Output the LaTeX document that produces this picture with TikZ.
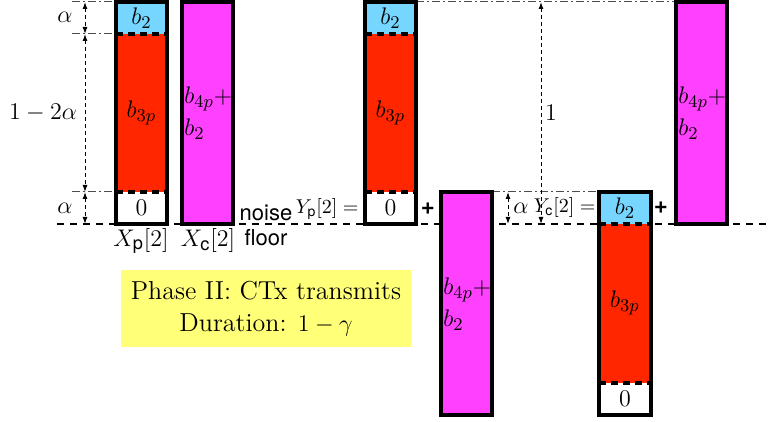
\documentclass[tikz,border=0pt]{standalone}
\usepackage{fontspec}
\setsansfont{TeX Gyre Heros}
\usetikzlibrary{arrows.meta}
\definecolor{cblue}{RGB}{118,214,255}
\definecolor{cred}{RGB}{255,38,0}
\definecolor{cmag}{RGB}{255,64,255}
\definecolor{cyel}{RGB}{255,255,120}
\newcommand{\lsize}{\fontsize{13}{16}\selectfont}
\begin{document}
\begin{tikzpicture}[x=0.5pt,y=-0.5pt,
  box/.style={draw=black, line width=2pt},
  sepline/.style={line width=1.8pt, dash pattern=on 3.5pt off 2.5pt},
  floorline/.style={line width=0.9pt, dash pattern=on 3.5pt off 3pt},
  guide/.style={black!70, line width=0.5pt, dash pattern=on 4pt off 1.5pt on 1pt off 1.5pt},
  dim/.style={line width=0.5pt, dash pattern=on 2pt off 1.5pt, {Latex[length=3.5pt,width=2.5pt]}-{Latex[length=3.5pt,width=2.5pt]}},
  lab/.style={font=\lsize, inner sep=0pt},
  small/.style={font=\fontsize{10}{12}\selectfont, inner sep=0pt},
  plus/.style={font=\sffamily\bfseries\large, inner sep=0pt},
  magtext/.style={font=\lsize, align=left, anchor=west, inner sep=0pt}
]
\useasboundingbox (0,0) rectangle (768,422);

% noise floor
\draw[floorline] (57,224) -- (768,224);

% guides left
\draw[guide] (72,2) -- (116,2);
\draw[guide] (72,34) -- (116,34);
\draw[guide] (72,192) -- (116,192);
% guides right
\draw[guide] (416,2) -- (676,2);
\draw[guide] (492,192) -- (599,192);

% dimension coordinates
\coordinate (l0) at (85,2);
\coordinate (l1) at (85,34);
\coordinate (l2) at (85,192);
\coordinate (l3) at (85,224);
\coordinate (m0) at (508,192);
\coordinate (m1) at (508,224);
\coordinate (o0) at (541,2);
\coordinate (o1) at (541,224);
\draw[dim] (l0) -- (l1);
\draw[dim] (l1) -- (l2);
\draw[dim] (l2) -- (l3);
\draw[dim] (m0) -- (m1);
\draw[dim] (o0) -- (o1);

\node[lab] (a1) at (65,17) {$\alpha$};
\node[lab] (a2) at (43,113) {$1-2\alpha$};
\node[lab] (a3) at (65,208) {$\alpha$};
\node[lab] (a4) at (521,208) {$\alpha$};
\node[lab] (one) at (551,113) {$1$};

% X_p box
\fill[cblue] (116,2) rectangle (167,34);
\fill[cred] (116,34) rectangle (167,192);
\fill[white] (116,192) rectangle (167,224);
\draw[sepline] (116,34) -- (167,34);
\draw[sepline] (116,192) -- (167,192);
\draw[box] (116,2) rectangle (167,224);
\node[lab] (xpb2) at (141.5,18) {$b_2$};
\node[lab] (xpb3) at (141.5,113) {$b_{3p}$};
\node[lab] (xp0) at (141.5,208) {$0$};
\node[lab] (xplab) at (141,241) {$X_{\mathsf{p}}[2]$};

% X_c box
\fill[cmag] (182,2) rectangle (233,224);
\draw[box] (182,2) rectangle (233,224);
\node[magtext] (xct) at (184,113) {$b_{4p}+$\\[0pt]$b_2$};
\node[lab] (xclab) at (208,241) {$X_{\mathsf{c}}[2]$};

% noise floor label
\node[font=\sffamily\fontsize{11}{12.5}\selectfont, align=center, inner sep=0pt] (nf) at (266,225) {noise\\floor};

% Y_p
\node[small, anchor=east] (yp) at (359,209) {$Y_{\mathsf{p}}[2]=$};
\fill[cblue] (365,2) rectangle (416,34);
\fill[cred] (365,34) rectangle (416,192);
\fill[white] (365,192) rectangle (416,224);
\draw[sepline] (365,34) -- (416,34);
\draw[sepline] (365,192) -- (416,192);
\draw[box] (365,2) rectangle (416,224);
\node[lab] (ypb2) at (390.5,18) {$b_2$};
\node[lab] (ypb3) at (390.5,113) {$b_{3p}$};
\node[lab] (yp0) at (390.5,208) {$0$};
\node[plus] (p1) at (428,209) {+};
\fill[cmag] (441,192) rectangle (492,415);
\draw[box] (441,192) rectangle (492,415);
\node[magtext] (ypt) at (443,304) {$b_{4p}+$\\[0pt]$b_2$};

% Y_c
\node[small, anchor=east] (yc) at (596,208) {$Y_{\mathsf{c}}[2]=$};
\fill[cblue] (599,192) rectangle (651,224);
\fill[cred] (599,224) rectangle (651,383);
\fill[white] (599,383) rectangle (651,415);
\draw[sepline] (599,224) -- (651,224);
\draw[sepline] (599,383) -- (651,383);
\draw[box] (599,192) rectangle (651,415);
\node[lab] (ycb2) at (625,208) {$b_2$};
\node[lab] (ycb3) at (625,303) {$b_{3p}$};
\node[lab] (yc0) at (625,399) {$0$};
\node[plus] (p2) at (661,208) {+};
\fill[cmag] (676,2) rectangle (727,224);
\draw[box] (676,2) rectangle (727,224);
\node[magtext] (yct) at (678,113) {$b_{4p}+$\\[0pt]$b_2$};

% phase box
\node[fill=cyel, minimum width=145pt, minimum height=38.5pt, align=center, font=\lsize, inner sep=0pt] (phase) at (266,308.5) {Phase II: CTx transmits\\Duration: $1-\gamma$};
\end{tikzpicture}
\end{document}
